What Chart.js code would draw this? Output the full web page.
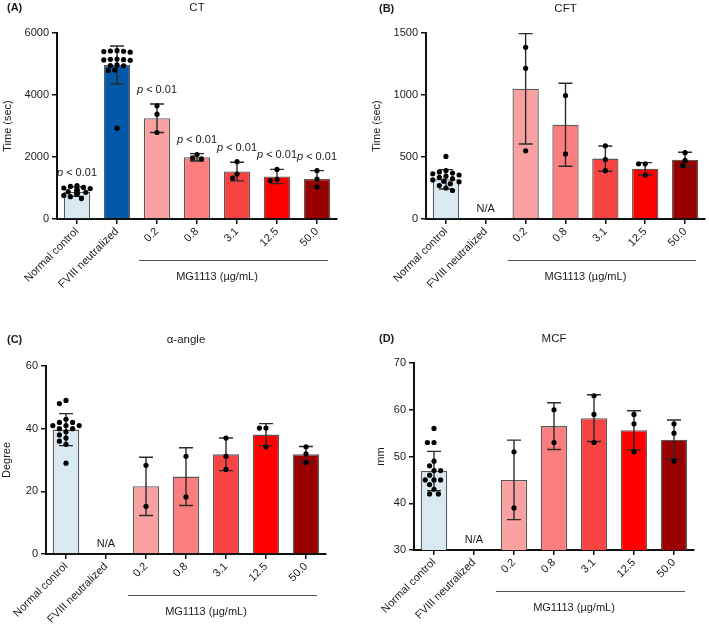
<!DOCTYPE html>
<html><head><meta charset="utf-8">
<script src="https://cdn.jsdelivr.net/npm/chart.js@4.4.0/dist/chart.umd.min.js"></script>
<style>
body{margin:0;background:#fff;width:709px;height:630px;position:relative;overflow:hidden}
canvas{position:absolute}
</style></head><body>
<canvas id="cA" width="354" height="315" style="left:0;top:0"></canvas>
<canvas id="cB" width="355" height="315" style="left:354px;top:0"></canvas>
<canvas id="cC" width="354" height="315" style="left:0;top:315px"></canvas>
<canvas id="cD" width="355" height="315" style="left:354px;top:315px"></canvas>
<script>
// ---------- data ----------
const categories = ['Normal control', 'FVIII neutralized', '0.2', '0.8', '3.1', '12.5', '50.0'];
const groupLabel = 'MG1113 (\u00b5g/mL)';

const ctMean = [880, 4970, 3250, 1990, 1530, 1370, 1290];
const ctSD   = [150, 610, 460, 120, 300, 230, 270];
const ctPoints = [
  [1080, 1050, 1020, 1000, 980, 950, 930, 900, 880, 860, 840, 820, 800, 760, 720, 660],
  [5430, 5420, 5410, 5400, 5380, 5160, 5150, 5140, 5130, 5120, 4970, 4950, 4940, 4810, 4790, 2930],
  [3650, 3380, 2790],
  [2080, 1970, 1940],
  [1850, 1450, 1320],
  [1600, 1280, 1240],
  [1560, 1290, 1030]
];
const ctPLabels = ['p < 0.01', null, 'p < 0.01', 'p < 0.01', 'p < 0.01', 'p < 0.01', 'p < 0.01'];
const ctTicks = [0, 6000, 2000];

const cftMean = [320, null, 1050, 760, 487, 405, 478];
const cftSD   = [78, null, 445, 335, 102, 50, 60];
const cftPoints = [
  [505, 390, 380, 370, 365, 355, 345, 335, 325, 315, 305, 300, 285, 270, 250, 230],
  [],
  [1385, 1215, 550],
  [995, 525],
  [590, 480, 390],
  [445, 445, 355],
  [535, 472, 432]
];
const cftTicks = [0, 1500, 500];

const angleMean = [39.7, null, 21.6, 24.7, 31.8, 38.1, 31.8];
const angleSD   = [5.1, null, 9.3, 9.2, 5.2, 3.5, 2.5];
const anglePoints = [
  [49, 48, 43, 42, 42, 41, 41, 41, 40, 40, 39, 38, 37, 36, 35, 29],
  [],
  [28.3, 15.2],
  [31.2, 18.2],
  [37.0, 31.2, 27.0],
  [40.2, 40.2, 34.2],
  [34.2, 32.0, 29.2]
];
const angleTicks = [0, 60, 20];

const mcfMean = [46.9, null, 45.0, 56.5, 58.2, 55.6, 53.6];
const mcfSD   = [4.2, null, 8.5, 5.0, 5.0, 4.2, 4.2];
const mcfPoints = [
  [56, 53, 53, 49, 48, 47, 47, 46, 45, 45, 45, 44, 43, 42, 42],
  [],
  [51, 39],
  [60, 53],
  [63, 59, 53],
  [59, 57, 51],
  [57, 55, 49]
];
const mcfTicks = [30, 70, 10];

const barColors = ['#d9e9f2', '#0359a8', '#f9a1a1', '#fb7e7e', '#f84343', '#fe0000', '#9b0000'];
const FONT = "'Liberation Sans', Arial, Helvetica, sans-serif";

// beeswarm horizontal offsets (category units), layout only
function swarm(vals, range) {
  const placed = [], out = [];
  const cands = [0];
  for (let k = 1; k <= 6; k++) { cands.push(-k * 0.055, k * 0.055); }
  vals.forEach(v => {
    let chosen = 0;
    for (const dx of cands) {
      const ok = placed.every(p => {
        const dyPx = Math.abs(p.v - v) / range * 187;
        const dxPx = Math.abs(p.dx - dx) * 40;
        return Math.hypot(dxPx, dyPx) >= 5.4;
      });
      if (ok) { chosen = dx; break; }
    }
    placed.push({ v, dx: chosen });
    out.push(chosen);
  });
  return out;
}

const annot = {
  id: 'annot',
  afterDatasetDraw(chart, args, o) {
    if (args.meta.type !== 'bar') return;
    const ctx = chart.ctx, xs = chart.scales.x, ys = chart.scales.y;
    ctx.save();
    ctx.strokeStyle = '#2a2a2a';
    ctx.lineWidth = 1.4;
    o.mean.forEach((m, i) => {
      if (m == null) return;
      const x = xs.getPixelForValue(i);
      const yt = ys.getPixelForValue(m + o.sd[i]);
      const yb = ys.getPixelForValue(m - o.sd[i]);
      ctx.beginPath();
      ctx.moveTo(x, yt); ctx.lineTo(x, yb);
      ctx.moveTo(x - 7, yt); ctx.lineTo(x + 7, yt);
      ctx.moveTo(x - 7, yb); ctx.lineTo(x + 7, yb);
      ctx.stroke();
    });
    ctx.restore();
  },
  afterDraw(chart, args, o) {
    const ctx = chart.ctx, xs = chart.scales.x, ys = chart.scales.y, ca = chart.chartArea;
    ctx.save();
    ctx.fillStyle = '#1a1a1a';
    ctx.textBaseline = 'middle';
    ctx.font = 'bold 11px ' + FONT;
    ctx.textAlign = 'left';
    ctx.fillText(o.letter, o.letterX, o.titleY);
    ctx.font = '11.5px ' + FONT;
    ctx.textAlign = 'center';
    ctx.fillText(o.title, (ca.left + ca.right) / 2, o.titleY);
    const bx0 = xs.getPixelForValue(2) - 18, bx1 = xs.getPixelForValue(6) + 11;
    const by = ca.bottom + 41.5;
    ctx.strokeStyle = '#555';
    ctx.lineWidth = 1.2;
    ctx.beginPath(); ctx.moveTo(bx0, by); ctx.lineTo(bx1, by); ctx.stroke();
    ctx.font = '11px ' + FONT;
    ctx.fillText(groupLabel, (xs.getPixelForValue(3) + xs.getPixelForValue(4)) / 2, ca.bottom + 58);
    o.mean.forEach((m, i) => {
      if (m == null) {
        ctx.font = '11px ' + FONT;
        ctx.textAlign = 'center';
        ctx.fillText('N/A', xs.getPixelForValue(i), ca.bottom - 10);
      }
    });
    if (o.pLabels) {
      o.pLabels.forEach((t, i) => {
        if (!t) return;
        const x = xs.getPixelForValue(i);
        const y = ys.getPixelForValue(o.mean[i] + o.sd[i]) - 14;
        const rest = t.slice(1);
        ctx.font = 'italic 11px ' + FONT;
        const w1 = ctx.measureText(t[0]).width;
        ctx.font = '11px ' + FONT;
        const w2 = ctx.measureText(rest).width;
        const x0 = x - (w1 + w2) / 2;
        ctx.textAlign = 'left';
        ctx.font = 'italic 11px ' + FONT;
        ctx.fillText(t[0], x0, y);
        ctx.font = '11px ' + FONT;
        ctx.fillText(rest, x0 + w1, y);
      });
    }
    ctx.restore();
  }
};

function makePanel(id, p) {
  const range = p.ticks[1] - p.ticks[0];
  const pts = [];
  p.points.forEach((arr, i) => {
    const off = swarm(arr, range);
    arr.forEach((v, j) => pts.push({ x: i + off[j], y: v }));
  });
  new Chart(document.getElementById(id), {
    type: 'bar',
    data: {
      labels: categories,
      datasets: [
        {
          type: 'bar', data: p.mean, backgroundColor: barColors, grouped: false,
          borderColor: '#5a5a5a', borderWidth: 1.3, barPercentage: 0.66, categoryPercentage: 1,
          order: 2
        },
        {
          type: 'scatter', data: pts, xAxisID: 'xj', backgroundColor: '#000', borderColor: '#000',
          pointRadius: 2.6, borderWidth: 0, order: 1
        }
      ]
    },
    options: {
      responsive: false, animation: false,
      layout: { padding: p.pad },
      plugins: { legend: { display: false }, tooltip: { enabled: false }, title: { display: false }, annot: {
        mean: p.mean, sd: p.sd, pLabels: p.pLabels, title: p.title, letter: p.letter,
        letterX: p.letterX, titleY: p.titleY } },
      scales: {
        x: {
          type: 'category', offset: true,
          afterFit: s => { s.height = p.xh; },
          ticks: { autoSkip: false, maxRotation: 45, minRotation: 45, color: '#1a1a1a', font: { family: FONT, size: 11 }, padding: 1 },
          grid: { offset: false, drawOnChartArea: false, drawTicks: true, tickLength: 5, color: '#111', lineWidth: 1.5 },
          border: { display: true, color: '#111', width: 2 }
        },
        xj: { type: 'linear', min: -0.5, max: 6.5, offset: false, grid: { offset: false }, display: false },
        y: {
          min: p.ticks[0], max: p.ticks[1],
          afterFit: s => { s.width = p.yw; },
          ticks: { stepSize: p.ticks[2], color: '#1a1a1a', font: { family: FONT, size: 11 }, padding: 3,
                   callback: v => String(v) },
          grid: { drawOnChartArea: false, drawTicks: true, tickLength: 5, color: '#111', lineWidth: 1.5 },
          border: { display: true, color: '#111', width: 2 },
          title: { display: true, text: p.yTitle, color: '#1a1a1a', font: { family: FONT, size: 11 }, padding: { top: p.ytp, bottom: 0 } }
        }
      }
    },
    plugins: [annot]
  });
}

makePanel('cA', { mean: ctMean, sd: ctSD, points: ctPoints, ticks: ctTicks, pLabels: ctPLabels,
  title: 'CT', letter: '(A)', letterX: 7, titleY: 8, yTitle: 'Time (sec)', ytp: 1.5,
  pad: { left: 0, right: 17, top: 33, bottom: 0 }, yw: 57, xh: 96 });
makePanel('cB', { mean: cftMean, sd: cftSD, points: cftPoints, ticks: cftTicks, pLabels: null,
  title: 'CFT', letter: '(B)', letterX: 25, titleY: 9, yTitle: 'Time (sec)', ytp: 16,
  pad: { left: 0, right: 3, top: 33, bottom: 0 }, yw: 72, xh: 96 });
makePanel('cC', { mean: angleMean, sd: angleSD, points: anglePoints, ticks: angleTicks, pLabels: null,
  title: '\u03b1-angle', letter: '(C)', letterX: 7, titleY: 25, yTitle: 'Degree', ytp: 0,
  pad: { left: 0, right: 28, top: 51, bottom: 0 }, yw: 46, xh: 76 });
makePanel('cD', { mean: mcfMean, sd: mcfSD, points: mcfPoints, ticks: mcfTicks, pLabels: null,
  title: 'MCF', letter: '(D)', letterX: 25, titleY: 24, yTitle: 'mm', ytp: 20,
  pad: { left: 0, right: 15, top: 48, bottom: 0 }, yw: 60, xh: 80 });
</script>
</body></html>
